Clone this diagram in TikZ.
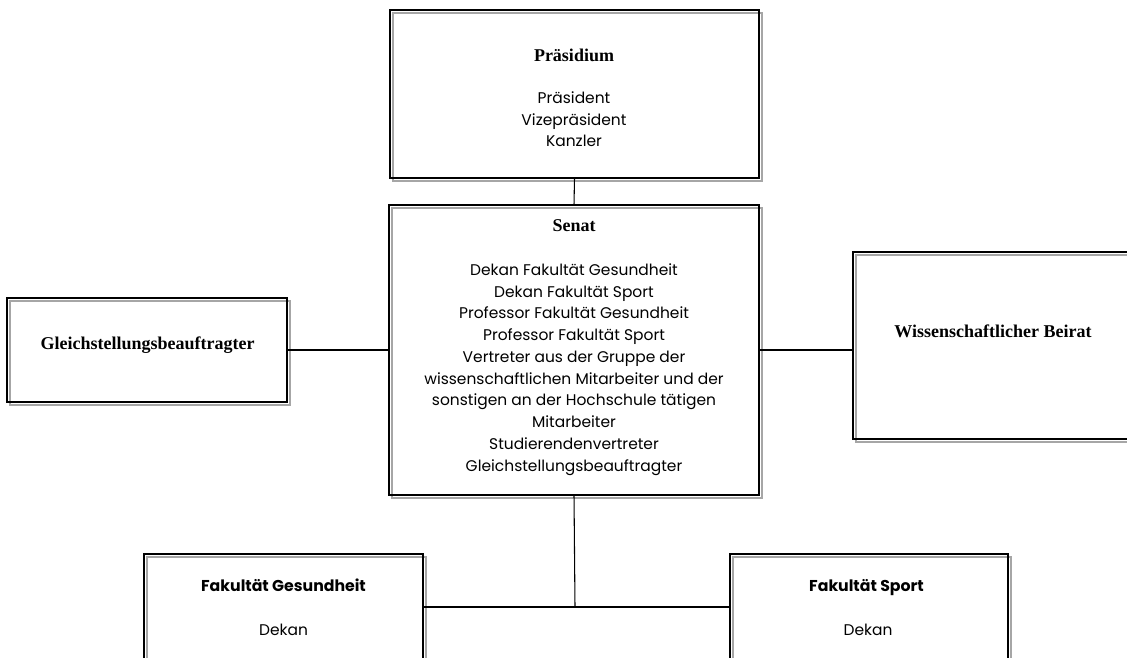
\documentclass[tikz,border=0pt]{standalone}
\usepackage{fontspec}
\setmainfont{Poppins}
\newfontfamily\headfont{Liberation Serif}
\usetikzlibrary{calc}
\tikzset{
	orgbox/.style={draw=black, line width=0.9pt, inner sep=0pt, outer sep=0pt,
		preaction={draw=black!35, line width=0.8pt, transform canvas={xshift=2.25pt, yshift=-2.25pt}}},
	headtext/.style={font=\headfont\bfseries\fontsize{13.5}{15}\selectfont, align=center},
	facthead/.style={font=\bfseries\fontsize{11.8}{14}\selectfont, align=center, text height=9pt, text depth=2.5pt},
	bodytext/.style={font=\fontsize{11.6}{16.3}\selectfont, align=center},
	link/.style={draw=black, line width=0.8pt}
}

\begin{document}
\begin{tikzpicture}[x=0.75pt, y=-0.75pt]
		%%%%% FRAME %%%%%
		\useasboundingbox (0, 0) rectangle (1127, 657);
		\clip (0, 0) rectangle (1127, 657);
		
		%%%%% BOXES %%%%%
		\node[orgbox, minimum width=369*0.75pt, minimum height=168*0.75pt] (praes) at (574.5, 94) {};
		\node[orgbox, minimum width=370*0.75pt, minimum height=290*0.75pt] (senat) at (574, 350) {};
		\node[orgbox, minimum width=280*0.75pt, minimum height=104*0.75pt] (gleich) at (147, 350) {};
		\node[orgbox, minimum width=287*0.75pt, minimum height=187*0.75pt] (wiss) at (996.5, 345.5) {};
		\node[orgbox, minimum width=279*0.75pt, minimum height=146*0.75pt] (fakges) at (283.5, 627) {};
		\node[orgbox, minimum width=278*0.75pt, minimum height=146*0.75pt] (fakspo) at (869, 627) {};
		
		%%%%% TEXTS %%%%%
		\node[headtext] (praeshead) at (574, 55) {Präsidium};
		\node[bodytext, anchor=north] (praesbody) at (574, 87) {Präsident\\Vizepräsident\\Kanzler};
		
		\node[headtext] (senathead) at (574, 226) {Senat};
		\node[bodytext, anchor=north] (senatbody) at (574, 259) {Dekan Fakultät Gesundheit\\
			Dekan Fakultät Sport\\
			Professor Fakultät Gesundheit\\
			Professor Fakultät Sport\\
			Vertreter aus der Gruppe der\\
			wissenschaftlichen Mitarbeiter und der\\
			sonstigen an der Hochschule tätigen\\
			Mitarbeiter\\
			Studierendenvertreter\\
			Gleichstellungsbeauftragter};
		
		\node[headtext] (gleichhead) at (147.5, 345) {Gleichstellungsbeauftragter};
		\node[headtext] (wisshead) at (993, 331) {Wissenschaftlicher Beirat};
		
		\node[facthead] (fakgeshead) at (283.5, 587) {Fakultät Gesundheit};
		\node[bodytext] (fakgesbody) at (283.5, 630) {Dekan};
		\node[facthead] (fakspohead) at (866.5, 587) {Fakultät Sport};
		\node[bodytext] (fakspobody) at (868, 630) {Dekan};
		
		%%%%% LINKS %%%%%
		\coordinate (junc) at (575, 607);
		\draw[link] (praes.south) -- (senat.north);
		\draw[link] (gleich.east) -- (senat.west);
		\draw[link] (senat.east) -- (senat.east -| wiss.west);
		\draw[link] (senat.south) -- (junc);
		\draw[link] (fakges.east |- junc) -- (fakspo.west |- junc);
		
		%%%%% END %%%%%
	\end{tikzpicture}
\end{document}
